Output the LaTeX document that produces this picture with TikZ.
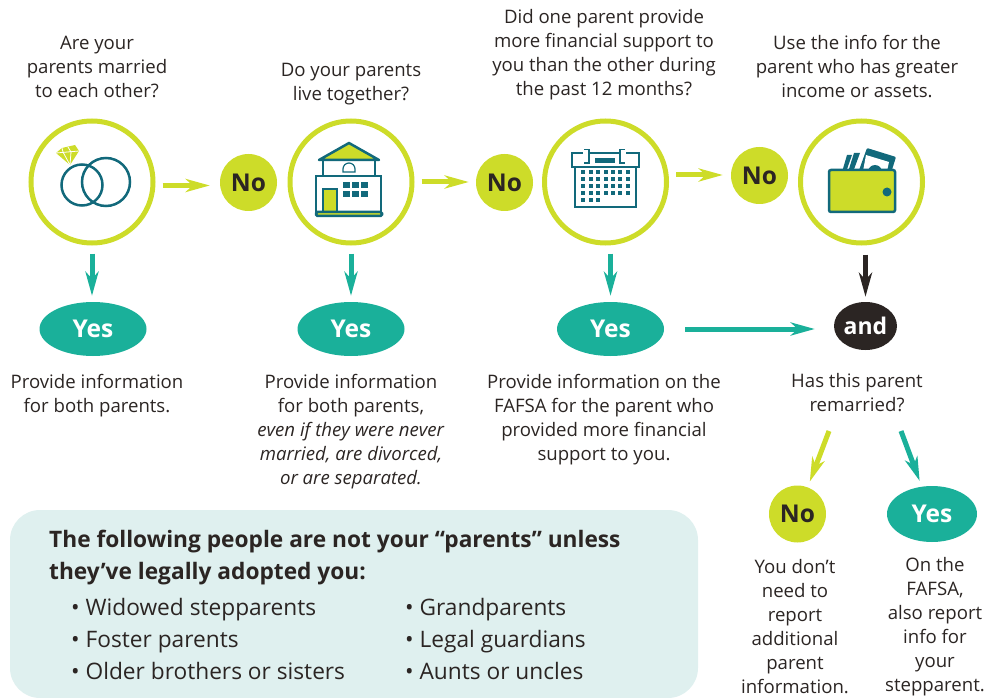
\documentclass[tikz,border=0pt]{standalone}
\usepackage{fontspec}
\setmainfont{Open Sans}
\usetikzlibrary{arrows.meta,shapes.geometric}
\definecolor{limeg}{HTML}{CDDC29}
\definecolor{tealg}{HTML}{1AB09A}
\definecolor{teald}{HTML}{12697B}
\definecolor{darkb}{HTML}{2B2523}
\definecolor{panelb}{HTML}{DFF0EF}
\begin{document}
\begin{tikzpicture}[
        x=1pt,
        y=-1pt,
        font=\fontsize{18.6}{24}\selectfont,
    ]
    \tikzset{
        ring/.style = {circle, draw=limeg, line width=5pt, minimum size=122pt, inner sep=0pt},
        nonode/.style = {circle, fill=limeg, text=darkb, minimum size=57pt, inner sep=0pt, font=\fontsize{24.5}{24}\selectfont\bfseries},
        yesnode/.style = {ellipse, fill=tealg, text=white, minimum width=107pt, minimum height=54pt, inner sep=0pt, font=\fontsize{24.5}{24}\selectfont\bfseries},
        txt/.style = {align=center, inner sep=0pt, text=darkb},
        edgel/.style = {-{Stealth[length=24pt,width=13pt,inset=7pt]}, line width=5pt, limeg},
        edget/.style = {-{Stealth[length=24pt,width=13pt,inset=7pt]}, line width=5pt, tealg},
        edgek/.style = {-{Stealth[length=24pt,width=13pt,inset=7pt]}, line width=5pt, darkb},
        icon/.style = {draw=teald, line width=2.5pt},
    }
    \useasboundingbox (0,0) rectangle (986,698);
    \node[ring] at (92,182) (ringa) {};
    \node[ring] at (351,182) (ringb) {};
    \node[ring] at (605.5,182) (ringc) {};
    \node[ring] at (861.5,182) (ringd) {};
    \node[nonode] at (248.5,182.5) (noa) {No};
    \node[nonode] at (504.5,182.5) (nob) {No};
    \node[nonode] at (759.5,175.5) (noc) {No};
    \node[nonode] at (797.5,514) (nod) {No};
    \node[yesnode, text depth=1pt] at (93,329) (yesa) {Yes};
    \node[yesnode, text depth=1pt] at (351,329) (yesb) {Yes};
    \node[yesnode, text depth=1pt] at (610.5,329) (yesc) {Yes};
    \node[yesnode, minimum width=90pt, minimum height=56pt] at (932,514) (yesd) {Yes};
    \node[ellipse, fill=darkb, text=white, minimum width=63pt, minimum height=48pt, inner sep=0pt, font=\fontsize{23}{24}\selectfont\bfseries] at (865.5,326) (anda) {and};
    %
    \node[txt] at (97,66.5) (qa) {Are your\\parents married\\to each other?};
    \node[txt] at (351,84.5) (qb) {Do your parents\\live together?};
    \node[txt] at (604,54.5) (qc) {Did one parent provide\\more financial support to\\you than the other during\\the past 12 months?};
    \node[txt] at (857,66.5) (qd) {Use the info for the\\parent who has greater\\income or assets.};
    \node[txt] at (97,396) (ansa) {Provide information\\for both parents.};
    \node[txt] at (351,432) (ansb) {Provide information\\for both parents,\\\textit{even if they were never}\\\textit{married, are divorced,}\\\textit{or are separated.}};
    \node[txt] at (604,420) (ansc) {Provide information on the\\FAFSA for the parent who\\provided more financial\\support to you.};
    \node[txt] at (857,393) (qe) {Has this parent\\remarried?};
    \node[txt] at (795,627) (ansd) {You don’t\\need to\\report\\additional\\parent\\information.};
    \node[txt] at (935,627) (anse) {On the\\FAFSA,\\also report\\info for\\your\\stepparent.};
    %
    \draw[edgel, shorten <=7pt, shorten >=10pt] (ringa.east |- 185.5,185.5) -- (noa.west |- 185.5,185.5);
    \draw[edgel, shorten <=7pt, shorten >=7pt] (ringb.east |- 182,182) -- (nob.west |- 182,182);
    \draw[edgel, shorten <=7pt, shorten >=8pt] (ringc.east |- 175,175) -- (noc.west |- 175,175);
    \draw[edget, shorten <=8pt, shorten >=6pt] (ringa.south) -- (ringa.south |- yesa.north);
    \draw[edget, shorten <=8pt, shorten >=6pt] (ringb.south) -- (yesb.north);
    \draw[edget, shorten <=8pt, shorten >=6pt] (ringc.south -| yesc.north) -- (yesc.north);
    \draw[edgek, shorten <=9pt, shorten >=5pt] (ringd.south -| anda.north) -- (anda.north);
    \draw[edget, shorten <=21pt, shorten >=19pt] (yesc.east) -- (yesc.east -| anda.west);
    \coordinate (fromno) at (829,431);
    \coordinate (fromyes) at (901,431);
    \draw[edgel, shorten >=6pt] (fromno) -- (nod);
    \draw[edget, shorten >=6pt] (fromyes) -- (yesd);
    %
    % rings
    \draw[icon] (82,185) circle (20.5);
    \draw[icon] (106,182) circle (24);
    \fill[limeg] (56,153) -- (62,148) -- (75,145) -- (79,151) -- (70,165) -- cycle;
    \draw[white, line width=.8pt] (56,153) -- (79,151) (62,148) -- (63,152) -- (70,165) -- (71,152) -- (68,147);
    %
    % house
    \draw[icon, fill=white] (323,160) rectangle (375,176);
    \draw[icon, fill=limeg, line join=round] (349,143) -- (319,160) -- (379,160) -- cycle;
    \draw[teald, line width=1.2pt] (343,172) -- (343,169) arc (180:360:6) -- (355,172) -- cycle;
    \draw[icon, fill=white] (316,176) rectangle (381,212);
    \draw[icon, fill=limeg] (323,189) rectangle (337,212);
    \foreach \i in {0,1,2} {
        \foreach \j in {0,1} {
            \fill[teald] (343+9*\i,182+9*\j) rectangle ++(7,6);
        }
    }
    \draw[icon, fill=limeg, rounded corners=1.5pt] (316,212) rectangle (382,216);
    %
    % calendar
    \draw[icon, fill=white] (575,167) rectangle (636,207);
    \draw[icon, fill=white] (572,153) rectangle (639,167);
    \fill[white] (583,149) rectangle (589,163);
    \fill[white] (620,149) rectangle (626,163);
    \draw[teald, line width=1.5pt] (584,149.5) -- (589,149.5) -- (589,163) -- (584,163);
    \draw[teald, line width=1.5pt] (625,149.5) -- (620,149.5) -- (620,163) -- (625,163);
    \fill[teald] (595,158) rectangle (615,163);
    \foreach \y in {172,179,186,193} {
        \foreach \x in {583,591,598,606,613,620,628} {
            \fill[teald] (\x-1.7,\y-1.7) rectangle ++(3.4,3.4);
        }
    }
    \foreach \x in {583,591,598} {
        \fill[teald] (\x-1.7,200-1.7) rectangle ++(3.4,3.4);
    }
    %
    % wallet
    \fill[teald] (847,155) -- (852,155) -- (846,172) -- (842,172) -- cycle;
    \fill[teald] (854,153) -- (860,153) -- (853,172) -- (848,172) -- cycle;
    \fill[teald, rounded corners=1pt] (867,148) -- (896,157) -- (891,173) -- (858,173) -- cycle;
    \fill[white] (866,155) -- (889,162) -- (887,171) -- (863,171) -- cycle;
    \fill[teald] (875,172) circle (7);
    \draw[icon, fill=limeg, rounded corners=2pt] (829,170) rectangle (895,212);
    \fill[teald] (887,192) circle (4.5);
    %
    % panel
    \fill[panelb, rounded corners=30pt] (10,510) rectangle (698,698);
    \node[txt, align=left, anchor=west, font=\fontsize{22.7}{32}\selectfont\bfseries] at (49,557.5) (head) {The following people are not your “parents” unless\\they’ve legally adopted you:};
    \node[txt, align=left, anchor=west, font=\fontsize{22.7}{32}\selectfont] at (71,638.5) (lista) {• Widowed stepparents\\• Foster parents\\• Older brothers or sisters};
    \node[txt, align=left, anchor=west, font=\fontsize{22.7}{32}\selectfont] at (405,638.5) (listb) {• Grandparents\\• Legal guardians\\• Aunts or uncles};
\end{tikzpicture}
\end{document}
